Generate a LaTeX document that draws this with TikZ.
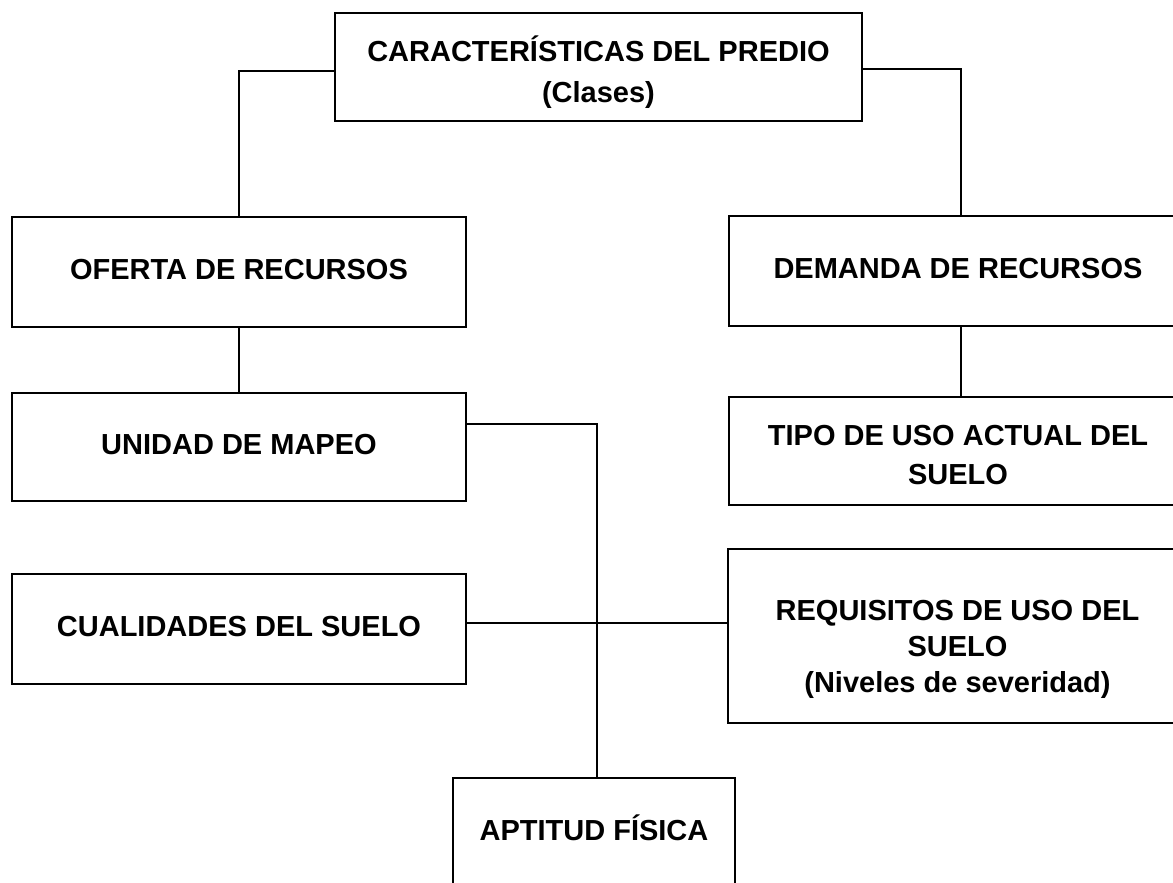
\documentclass[tikz,border=0pt]{standalone}
\usepackage{fontspec}
\setmainfont{Liberation Sans}
\newcommand{\dn}[2]{\raisebox{-#1}[\height][\depth]{\begin{tabular}{@{}c@{}}#2\end{tabular}}}
\begin{document}
\begin{tikzpicture}[x=1pt,y=-1pt,
  box/.style={draw, line width=2.2pt, rectangle, inner sep=0pt,
    font=\fontsize{29}{36}\selectfont\bfseries},
  link/.style={line width=2.2pt}]
\useasboundingbox (0,0) rectangle (1173,883);
\fill[white] (0,0) rectangle (1173,883);
\clip (0,0) rectangle (1173,883);
\node[box, minimum width=527pt, minimum height=108pt] (top) at (598.5,67)
  {\dn{7.5pt}{CARACTERÍSTICAS DEL PREDIO\\[5pt](Clases)}};
\node[box, minimum width=454pt, minimum height=110pt] (oferta) at (239,272)
  {\dn{0pt}{OFERTA DE RECURSOS}};
\node[box, minimum width=458pt, minimum height=110pt] (demanda) at (958,271)
  {\dn{0pt}{DEMANDA DE RECURSOS}};
\node[box, minimum width=454pt, minimum height=108pt] (unidad) at (239,447)
  {\dn{0pt}{UNIDAD DE MAPEO}};
\node[box, minimum width=458pt, minimum height=108pt] (tipo) at (958,451)
  {\dn{7pt}{TIPO DE USO ACTUAL DEL\\[3pt]SUELO}};
\node[box, minimum width=459pt, minimum height=174pt] (requisitos) at (957.5,636)
  {\dn{13pt}{REQUISITOS DE USO DEL\\SUELO\\(Niveles de severidad)}};
\node[box, minimum width=454pt, minimum height=110pt] (cualidades) at (239,629)
  {\dn{0pt}{CUALIDADES DEL SUELO}};
\node[box, minimum width=282pt, minimum height=110pt] (aptitud) at (594,833)
  {\dn{0pt}{APTITUD FÍSICA}};
\draw[link] ([yshift=-4pt]top.west) -| (oferta.north);
\draw[link] ([yshift=-2pt]top.east) -| ([xshift=3pt]demanda.north);
\draw[link] (oferta.south) -- (unidad.north);
\draw[link] ([xshift=3pt]demanda.south) -- ([xshift=3pt]tipo.north);
\draw[link] ([yshift=23pt]unidad.east) -| ([xshift=3pt]aptitud.north);
\coordinate (cq) at ([yshift=6pt]cualidades.east);
\draw[link] (cq) -- (cq -| requisitos.west);
\end{tikzpicture}
\end{document}
